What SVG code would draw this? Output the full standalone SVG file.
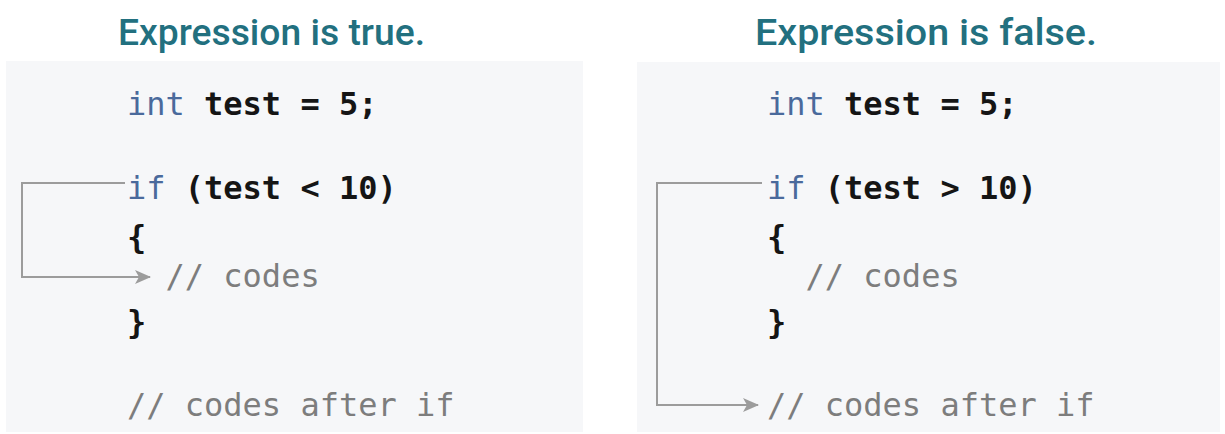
<svg xmlns="http://www.w3.org/2000/svg" width="1225" height="434" viewBox="0 0 1225 434">
  <style>
    .panel { fill: #f6f7f9; }
    .title { font-family: Roboto, "Noto Sans", "Liberation Sans", sans-serif; font-weight: 500; font-size: 37px; fill: #22707f; }
    .code { font-family: "DejaVu Sans Mono", "Liberation Mono", monospace; font-weight: bold; font-size: 32px; fill: #151515; }
    .kw { fill: #4a6a9c; font-weight: normal; }
    .cm { fill: #7d7d7d; font-weight: normal; }
    .flow { fill: none; stroke: #9c9c9c; stroke-width: 2; }
  </style>
  <defs>
    <marker id="arrow" viewBox="0 0 16 14" refX="15" refY="7" markerWidth="16" markerHeight="14" markerUnits="userSpaceOnUse" orient="auto">
      <path d="M0,0 L16,7 L0,14 L4,7 Z" fill="#9c9c9c"/>
    </marker>
  </defs>

  <rect width="1225" height="434" fill="#ffffff"/>

  <!-- left panel: condition holds -->
  <g id="panel-true">
    <text class="title" x="118" y="45" textLength="307" lengthAdjust="spacingAndGlyphs">Expression is true.</text>
    <rect class="panel" x="6" y="61" width="577" height="371"/>
    <text class="code" x="127" y="115"><tspan class="kw">int</tspan> test = 5;</text>
    <text class="code" x="127" y="199"><tspan class="kw">if</tspan> (test &lt; 10)</text>
    <text class="code" x="127" y="248">{</text>
    <text class="code cm" x="127" y="287" xml:space="preserve">  // codes</text>
    <text class="code" x="127" y="333">}</text>
    <text class="code cm" x="127" y="416">// codes after if</text>
  </g>

  <!-- right panel: condition fails -->
  <g id="panel-false">
    <text class="title" x="755" y="45" textLength="342" lengthAdjust="spacingAndGlyphs">Expression is false.</text>
    <rect class="panel" x="637" y="62" width="583" height="370"/>
    <text class="code" x="767" y="115"><tspan class="kw">int</tspan> test = 5;</text>
    <text class="code" x="767" y="199"><tspan class="kw">if</tspan> (test &gt; 10)</text>
    <text class="code" x="767" y="248">{</text>
    <text class="code cm" x="767" y="287" xml:space="preserve">  // codes</text>
    <text class="code" x="767" y="333">}</text>
    <text class="code cm" x="767" y="416">// codes after if</text>
  </g>

  <!-- control-flow arrows -->
  <g id="connectors">
    <path class="flow" d="M125,183 H22 V277 H150" marker-end="url(#arrow)"/>
    <path class="flow" d="M762,183 H657 V405 H758" marker-end="url(#arrow)"/>
  </g>
</svg>
